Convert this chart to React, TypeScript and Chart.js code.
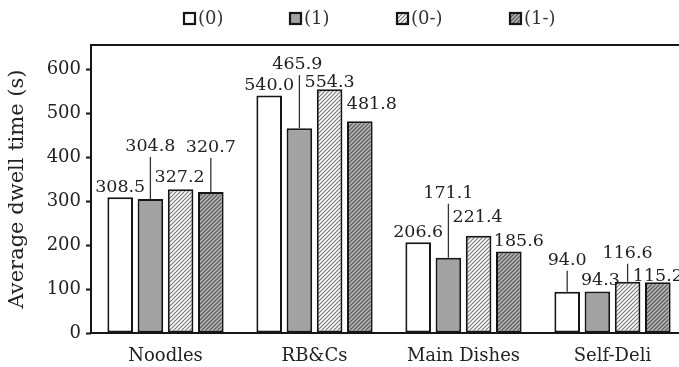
import React, { useEffect, useRef } from "react";
import { Chart, registerables } from "chart.js";

Chart.register(...registerables);

// ---- data ----
const categories = ["Noodles", "RB&Cs", "Main Dishes", "Self-Deli"];
const seriesNames = ["(0)", "(1)", "(0-)", "(1-)"];
const values0 = [308.5, 540.0, 206.6, 94.0];
const values1 = [304.8, 465.9, 171.1, 94.3];
const values0m = [327.2, 554.3, 221.4, 116.6];
const values1m = [320.7, 481.8, 185.6, 115.2];
const yTickValues = [0, 100, 200, 300, 400, 500, 600];
const yMax = 655;
const yTitle = "Average dwell time (s)";

// ---- value label layout (style only) ----
// raise: px from bar top to text baseline; shift: horizontal px; leader: draw a line
const labelRaise = [
  [5, 6, 5, 27],
  [48, 59, 60, 7],
  [7, 2, 14, 24],
  [40, 12, 5, 1],
];
const labelShift = [
  [0, 0, 0, 0],
  [0, -2, 0, 3],
  [-1, 0, -1, 0],
  [0, 12, 10, 0],
];
const labelLeader = [
  [false, false, false, true],
  [true, true, true, false],
  [false, false, false, true],
  [true, false, false, false],
];

const FONT = "'DejaVu Serif', serif";
const TEXT = "#222";
const EDGE = "#161616";

function makeHatch(bg: string, fg: string, size: number, lw: number) {
  const c = document.createElement("canvas");
  c.width = size;
  c.height = size;
  const g = c.getContext("2d")!;
  g.fillStyle = bg;
  g.fillRect(0, 0, size, size);
  g.strokeStyle = fg;
  g.lineWidth = lw;
  g.beginPath();
  g.moveTo(-1, size + 1);
  g.lineTo(size + 1, -1);
  g.moveTo(-size / 2 - 1, size / 2 + 1);
  g.lineTo(size / 2 + 1, -size / 2 - 1);
  g.moveTo(size / 2 - 1, size * 1.5 + 1);
  g.lineTo(size * 1.5 + 1, size / 2 - 1);
  g.stroke();
  return g.createPattern(c, "repeat")!;
}

export default function App() {
  const ref = useRef<HTMLCanvasElement | null>(null);

  useEffect(() => {
    const canvas = ref.current;
    if (!canvas) return;
    const fills: any[] = [
      "#ffffff",
      "#a2a2a2",
      makeHatch("#ffffff", "#7a7a7a", 4, 1.2),
      makeHatch("#b4b4b4", "#555555", 4, 1.2),
    ];
    const allValues = [values0, values1, values0m, values1m];

    const framePlugin = {
      id: "frame",
      afterDatasetsDraw(chart: any) {
        const { ctx, chartArea: a } = chart;
        ctx.save();
        ctx.strokeStyle = EDGE;
        ctx.lineWidth = 2;
        ctx.strokeRect(a.left, a.top, a.right - a.left, a.bottom - a.top);
        ctx.restore();
      },
    };

    const labelPlugin = {
      id: "valueLabels",
      afterDatasetsDraw(chart: any) {
        const ctx = chart.ctx;
        ctx.save();
        ctx.font = `17.5px ${FONT}`;
        ctx.fillStyle = TEXT;
        ctx.textAlign = "center";
        ctx.textBaseline = "alphabetic";
        chart.data.datasets.forEach((ds: any, i: number) => {
          const meta = chart.getDatasetMeta(i);
          meta.data.forEach((el: any, j: number) => {
            const v = ds.data[j] as number;
            const top = el.y;
            const base = top - labelRaise[i][j];
            ctx.fillText(v.toFixed(1), el.x + labelShift[i][j], base);
            if (labelLeader[i][j]) {
              ctx.strokeStyle = "#333";
              ctx.lineWidth = 1.3;
              ctx.beginPath();
              ctx.moveTo(el.x, base + 6);
              ctx.lineTo(el.x, top);
              ctx.stroke();
            }
          });
        });
        ctx.restore();
      },
    };

    const legendPlugin = {
      id: "customLegend",
      afterDraw(chart: any) {
        const ctx = chart.ctx;
        ctx.save();
        ctx.font = `18px ${FONT}`;
        ctx.textBaseline = "middle";
        ctx.textAlign = "left";
        const cy = 18.5;
        const box = 11;
        const starts = [184, 290, 397, 510];
        seriesNames.forEach((name, i) => {
          const x = starts[i];
          ctx.fillStyle = fills[i];
          ctx.fillRect(x, cy - box / 2, box, box);
          ctx.strokeStyle = EDGE;
          ctx.lineWidth = 2.2;
          ctx.strokeRect(x, cy - box / 2, box, box);
          ctx.fillStyle = "#333";
          ctx.fillText(name, x + box + 3, cy + 1);
        });
        ctx.restore();
      },
    };

    const chart = new Chart(canvas, {
      type: "bar",
      data: {
        labels: categories,
        datasets: allValues.map((vals, i) => ({
          label: seriesNames[i],
          data: vals,
          backgroundColor: fills[i],
          borderColor: EDGE,
          borderWidth: 2,
          borderSkipped: false,
          categoryPercentage: 0.811,
          barPercentage: 0.848,
        })),
      },
      options: {
        responsive: false,
        animation: false,
        devicePixelRatio: 1,
        layout: { padding: { top: 45, right: 13, left: 0, bottom: 0 } },
        plugins: {
          legend: { display: false },
          tooltip: { enabled: false },
        },
        scales: {
          x: {
            offset: true,
            grid: { display: false, drawTicks: false },
            border: { display: false },
            ticks: {
              font: { family: FONT, size: 18 },
              color: TEXT,
              padding: 13,
              maxRotation: 0,
              autoSkip: false,
            },
            afterFit: (s: any) => {
              s.height = 34;
            },
          },
          y: {
            min: 0,
            max: yMax,
            grid: {
              display: true,
              drawOnChartArea: false,
              drawTicks: true,
              tickLength: 5,
              tickColor: EDGE,
              tickWidth: 2,
            },
            border: { display: false },
            ticks: {
              stepSize: 100,
              includeBounds: false,
              font: { family: FONT, size: 18 },
              color: TEXT,
              padding: 5,
            },
            afterBuildTicks: (s: any) => {
              s.ticks = yTickValues.map((v) => ({ value: v }));
            },
            title: {
              display: true,
              text: yTitle,
              font: { family: FONT, size: 21 },
              color: TEXT,
              padding: { top: 5, bottom: 0 },
            },
            afterFit: (s: any) => {
              s.width = 91;
            },
          },
        },
      },
      plugins: [framePlugin, labelPlugin, legendPlugin],
    } as any);

    return () => chart.destroy();
  }, []);

  return (
    <div
      style={{
        position: "absolute",
        left: 0,
        top: 0,
        width: 679,
        height: 367,
        overflow: "hidden",
        background: "#fff",
      }}
    >
      <canvas ref={ref} width={700} height={367} style={{ display: "block" }} />
    </div>
  );
}
